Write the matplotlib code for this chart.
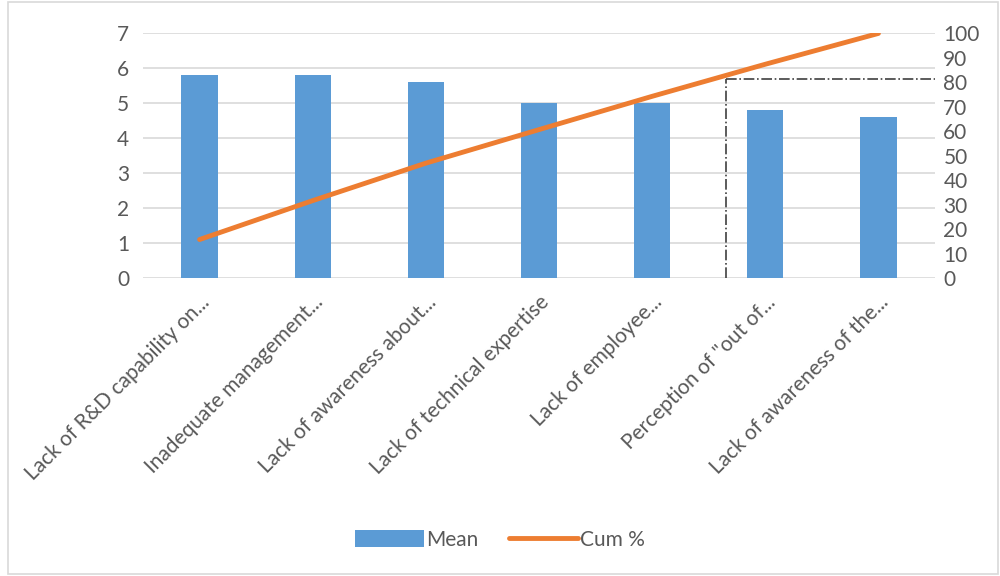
import matplotlib.pyplot as plt
from matplotlib.patches import Rectangle

plt.rcParams['font.family'] = ['Lato', 'DejaVu Sans']

categories = ['Lack of R&D capability on...', 'Inadequate management...',
              'Lack of awareness about...', 'Lack of technical expertise',
              'Lack of employee...', 'Perception of "out of...',
              'Lack of awareness of the...']
mean = [5.8, 5.8, 5.6, 5.0, 5.0, 4.8, 4.6]
cum_pct = [15.8, 31.7, 47.0, 60.7, 74.3, 87.4, 100.0]
cutoff_x = 4.65
cutoff_pct = 81.5

txt = '#595959'
fs = 15
fig = plt.figure(figsize=(10, 5.76), dpi=100)
ax = fig.add_axes([0.143, 0.517, 0.792, 0.425])
x = range(len(categories))
ax.bar(x, mean, width=0.32, color='#5B9BD5', label='Mean', zorder=2)
ax.set_xlim(-0.5, 6.5)
ax.set_ylim(0, 7)
ax.set_yticks(range(0, 8))
ax.grid(axis='y', color='#D9D9D9', lw=1.2, zorder=0)
ax.set_xticks(list(x))
ax.set_xticklabels(categories, rotation=45, ha='right', rotation_mode='anchor')
ax.tick_params(axis='both', length=0, labelsize=fs, colors=txt, pad=10)
ax.tick_params(axis='x', pad=10)
for s in ax.spines.values():
    s.set_visible(False)

ax2 = ax.twinx()
ax2.plot(x, cum_pct, color='#ED7D31', lw=3.5, solid_capstyle='round', label='Cum %', zorder=3)
ax2.set_ylim(0, 100)
ax2.set_yticks(range(0, 101, 10))
ax2.tick_params(axis='y', length=0, labelsize=fs, colors=txt, pad=6)
for s in ax2.spines.values():
    s.set_visible(False)
ax2.plot([cutoff_x, cutoff_x], [0, cutoff_pct], color='#404040', lw=1.2, ls='-.', zorder=4)
ax2.plot([cutoff_x, 6.5], [cutoff_pct, cutoff_pct], color='#404040', lw=1.2, ls='-.', zorder=4)
ax2.set_xlim(-0.5, 6.5)

h1, l1 = ax.get_legend_handles_labels()
h2, l2 = ax2.get_legend_handles_labels()
fig.legend(h1 + h2, l1 + l2, loc='center', bbox_to_anchor=(0.5, 0.063), ncol=2,
           frameon=False, fontsize=fs, labelcolor=txt, handlelength=3.3,
           handletextpad=0.1, columnspacing=1.5, handleheight=0.9)

fig.patches.append(Rectangle((0.008, 0.003), 0.99, 0.994, transform=fig.transFigure,
                             fill=False, edgecolor='#D9D9D9', lw=1.2))
fig.savefig('out.png', dpi=100)
